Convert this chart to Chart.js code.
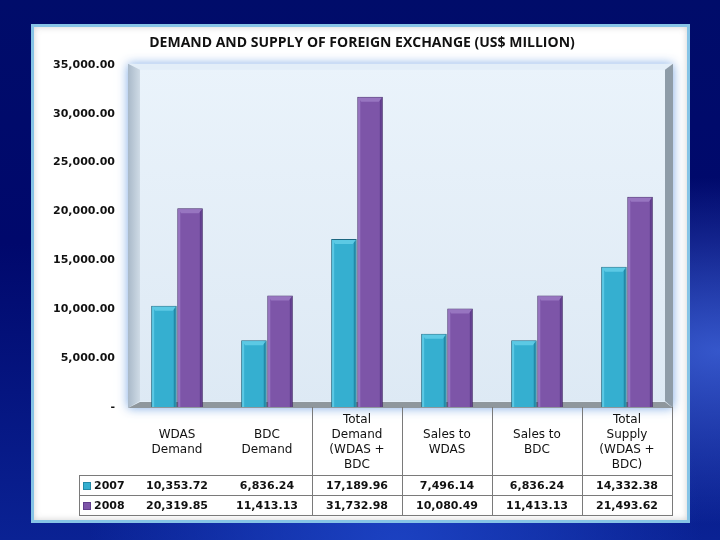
<!DOCTYPE html>
<html>
<head>
<meta charset="utf-8">
<script src="https://cdn.jsdelivr.net/npm/chart.js@4.4.0/dist/chart.umd.min.js"></script>
<style>
  body {
    margin: 0;
    width: 720px;
    height: 540px;
    overflow: hidden;
    background:
      radial-gradient(ellipse at 100% 65%, rgba(70,110,230,0.75), rgba(0,0,0,0) 35%),
      radial-gradient(ellipse at 55% 105%, rgba(30,70,200,0.9), rgba(0,0,0,0) 55%),
      linear-gradient(180deg, #000c6a 0%, #00086c 45%, #0a2294 100%);
  }
  #panel {
    position: absolute;
    left: 31px;
    top: 24px;
    width: 653px;
    height: 493px;
    border: 3px solid #86c4e6;
    background: #ffffff;
    box-shadow: inset 0 0 6px rgba(120,120,120,0.35);
  }
  #myChart {
    position: absolute;
    left: 0;
    top: 0;
  }
</style>
</head>
<body>
<div id="panel"></div>
<canvas id="myChart" width="720" height="540"></canvas>
<script>
// data
let categories = [
  ['WDAS', 'Demand'],
  ['BDC', 'Demand'],
  ['Total', 'Demand', '(WDAS +', 'BDC'],
  ['Sales to', 'WDAS'],
  ['Sales to', 'BDC'],
  ['Total', 'Supply', '(WDAS +', 'BDC)']
];
let years = ['2007', '2008'];
let values2007 = [10353.72, 6836.24, 17189.96, 7496.14, 6836.24, 14332.38];
let values2008 = [20319.85, 11413.13, 31732.98, 10080.49, 11413.13, 21493.62];
let yTicks = [0, 5000, 10000, 15000, 20000, 25000, 30000, 35000];

let barColors = ['#35afd0', '#7d55a8'];
let barLight = ['#5cc9e4', '#9775c0'];
let barDark = ['#2389a7', '#603d8c'];
let barEdge = ['#1c6680', '#3f2463'];

function fmt(v) {
  return v.toLocaleString('en-US', {minimumFractionDigits: 2, maximumFractionDigits: 2});
}

// 3D looking plot box behind the bars
const wallPlugin = {
  id: 'wall',
  beforeDatasetsDraw(chart) {
    const c = chart.ctx;
    const a = chart.chartArea;
    const l = a.left - 4, r = a.right + 1, t = a.top - 1, b = a.bottom + 1;
    c.save();
    c.shadowColor = 'rgba(110,160,225,0.9)';
    c.shadowBlur = 10;
    c.fillStyle = '#e3eef8';
    c.fillRect(l, t, r - l, b - t);
    c.restore();

    c.save();
    let g = c.createLinearGradient(l, t, l, b);
    g.addColorStop(0, '#eaf3fb');
    g.addColorStop(1, '#dde9f4');
    c.fillStyle = g;
    c.fillRect(l + 12, t + 6, r - l - 20, b - t - 13);

    // left wall
    g = c.createLinearGradient(l, 0, l + 12, 0);
    g.addColorStop(0, '#a9b9c9');
    g.addColorStop(1, '#cfdbe6');
    c.fillStyle = g;
    c.beginPath();
    c.moveTo(l, t); c.lineTo(l + 12, t + 6); c.lineTo(l + 12, b - 7); c.lineTo(l, b);
    c.closePath(); c.fill();

    // right wall
    c.fillStyle = '#8e9ca8';
    c.beginPath();
    c.moveTo(r - 8, t + 6); c.lineTo(r, t); c.lineTo(r, b); c.lineTo(r - 8, b - 7);
    c.closePath(); c.fill();

    // floor
    c.fillStyle = '#8f979d';
    c.beginPath();
    c.moveTo(l, b); c.lineTo(l + 12, b - 6); c.lineTo(r - 8, b - 6); c.lineTo(r, b);
    c.closePath(); c.fill();
    c.restore();
  },
  afterDatasetsDraw(chart) {
    const c = chart.ctx;
    c.save();
    chart.data.datasets.forEach((ds, di) => {
      chart.getDatasetMeta(di).data.forEach(bar => {
        const x0 = bar.x - bar.width / 2, x1 = bar.x + bar.width / 2;
        const y0 = bar.y, y1 = bar.base;
        c.fillStyle = barLight[di];
        c.fillRect(x0 + 1, y0 + 1, 2, y1 - y0 - 1);
        c.fillStyle = barDark[di];
        c.fillRect(x1 - 3, y0 + 1, 2, y1 - y0 - 1);
        c.fillStyle = barLight[di];
        c.beginPath();
        c.moveTo(x0 + 1, y0 + 1); c.lineTo(x1 - 1, y0 + 1); c.lineTo(x1 - 4, y0 + 5); c.lineTo(x0 + 4, y0 + 5);
        c.closePath(); c.fill();
      });
    });
    c.restore();
  }
};

// data table under the plot
const tablePlugin = {
  id: 'dataTable',
  afterDraw(chart) {
    const c = chart.ctx;
    const x = chart.scales.x;
    const a = chart.chartArea;
    const half = (x.getPixelForValue(1) - x.getPixelForValue(0)) / 2;
    const top = a.bottom, headBottom = 475, mid = 495, bottom = 515;
    const left = 79;
    c.save();
    c.strokeStyle = '#7a7a7a';
    c.lineWidth = 1;
    c.beginPath();
    for (let i = 2; i <= categories.length; i++) {
      const px = Math.round(x.getPixelForValue(i) - half) + 0.5;
      c.moveTo(px, top); c.lineTo(px, bottom);
    }
    c.moveTo(left + 0.5, headBottom); c.lineTo(left + 0.5, bottom);
    [headBottom, mid, bottom].forEach(y => {
      c.moveTo(left, y + 0.5); c.lineTo(a.right + 1, y + 0.5);
    });
    c.stroke();

    c.fillStyle = '#111';
    c.textAlign = 'center';
    c.textBaseline = 'middle';
    c.font = '12px "DejaVu Sans"';
    const lh = 15;
    const hc = (top + headBottom) / 2 + 1;
    categories.forEach((lines, i) => {
      const cx = x.getPixelForValue(i);
      lines.forEach((s, k) => {
        c.fillText(s, cx, hc + (k - (lines.length - 1) / 2) * lh);
      });
    });

    c.font = 'bold 11px "DejaVu Sans"';
    [values2007, values2008].forEach((vals, r) => {
      const cy = r === 0 ? (headBottom + mid) / 2 + 1 : (mid + bottom) / 2 + 1;
      vals.forEach((v, i) => {
        c.fillText(fmt(v), x.getPixelForValue(i), cy);
      });
      c.fillStyle = barColors[r];
      c.fillRect(83, cy - 4, 8, 8);
      c.strokeStyle = barDark[r];
      c.strokeRect(83.5, cy - 3.5, 7, 7);
      c.fillStyle = '#111';
      c.textAlign = 'left';
      c.fillText(years[r], 94, cy);
      c.textAlign = 'center';
    });
    c.restore();
  }
};

const ctx = document.getElementById('myChart').getContext('2d');
const myChart = new Chart(ctx, {
  type: 'bar',
  data: {
    labels: categories,
    datasets: [{
      label: years[0],
      data: values2007,
      backgroundColor: barColors[0],
      borderColor: barEdge[0],
      borderWidth: 1,
      categoryPercentage: 0.58,
      barPercentage: 0.98
    },
    {
      label: years[1],
      data: values2008,
      backgroundColor: barColors[1],
      borderColor: barEdge[1],
      borderWidth: 1,
      categoryPercentage: 0.58,
      barPercentage: 0.98
    }]
  },
  options: {
    responsive: false,
    animation: false,
    layout: {
      padding: {top: 30, left: 52, right: 48, bottom: 133}
    },
    plugins: {
      legend: {display: false},
      tooltip: {enabled: false},
      title: {
        display: true,
        text: 'DEMAND AND SUPPLY OF FOREIGN EXCHANGE (US$ MILLION)',
        color: '#111',
        font: {family: '"Open Sans"', size: 14, weight: 'bold', lineHeight: 1.2},
        padding: {top: 5, bottom: 13}
      }
    },
    scales: {
      x: {
        display: false
      },
      y: {
        min: 0,
        max: 35000,
        afterFit(scale) { scale.width = 80; },
        afterBuildTicks(scale) { scale.ticks = yTicks.map(v => ({value: v})); },
        grid: {display: false, drawTicks: false},
        border: {display: false},
        ticks: {
          padding: 17,
          color: '#111',
          font: {family: '"DejaVu Sans"', size: 11, weight: 'bold'},
          callback: v => v === 0 ? '-' : fmt(v)
        }
      }
    }
  },
  plugins: [wallPlugin, tablePlugin]
});
</script>
</body>
</html>
